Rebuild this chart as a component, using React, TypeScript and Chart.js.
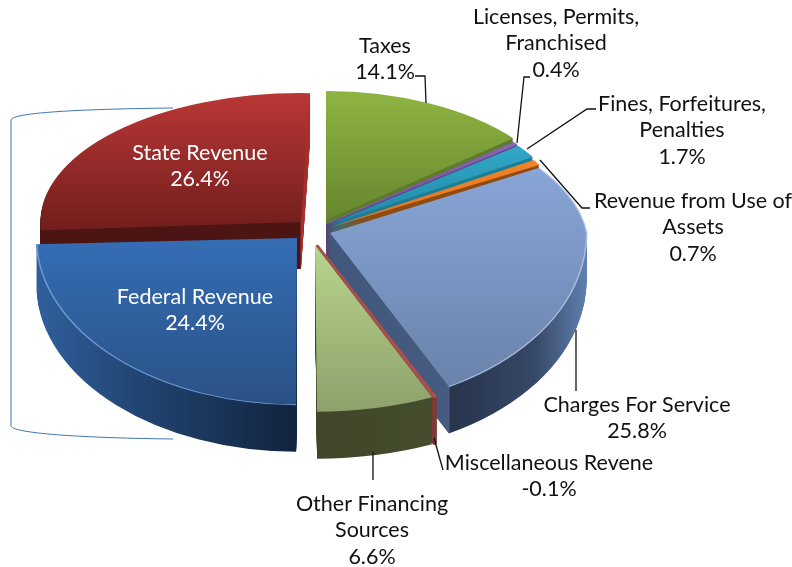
import React, { useEffect, useRef } from "react";
import { Chart, registerables } from "chart.js";

Chart.register(...registerables);

const categories = ["Taxes", "Licenses, Permits, Franchised", "Fines, Forfeitures, Penalties", "Revenue from Use of Assets", "Charges For Service", "Miscellaneous Revene", "Other Financing Sources", "Federal Revenue", "State Revenue"];
const values = [14.1, 0.4, 1.7, 0.7, 25.8, -0.1, 6.6, 24.4, 26.4];
const baseColors = ["#8cb040", "#7f5fa8", "#2fa0bf", "#ef8124", "#87a3d2", "#a9504d", "#b8d28c", "#356cb2", "#b53634"];

// styling & layout of the fake 3D projection
const W = 792, H = 567;
const SY_UP = 0.495, DEPTH = 47;
const drawOrder = [8, 0, 1, 2, 3, 4, 5, 6, 7];
const apexX = [326, 326, 327, 328, 330, 317, 315, 297, 301];
const apexY = [220, 224, 225, 228, 233, 245, 245, 238, 222];
const twist = [0, 0, 0, 0, -1, 2.1, 2.1, 2.7, 2];
const sxScale = [0.93, 0.93, 0.93, 0.93, 0.985, 1.1, 1.1, 1, 1];
const syDown = [0.64, 0.64, 0.64, 0.64, 0.665, 0.64, 0.64, 0.64, 0.64];
const skewUp = [0, 0, 0, 0, 0.2, 0, 0, 0, 0];
const outline = [0, 1, 0, 0, 0, 2.5, 0, 0, 0];
const topGrad = [
  [92, 222, "#8fb342", "#66862e"], [140, 225, "#8a68b4", "#6f4f98"], [150, 225, "#31a6c6", "#2088a6"],
  [155, 228, "#f2842a", "#e2761c"], [170, 385, "#88a5d6", "#6a83ab"], [245, 395, "#a9504d", "#94423f"],
  [245, 410, "#b8d48e", "#8ea26b"], [238, 405, "#356db4", "#2a5185"], [95, 225, "#b83736", "#741f1d"],
];
const sideStops: [number, string][][] = [
  [[0, "#5d7b2b"], [1, "#5d7b2b"]], [[0, "#5a3d82"], [1, "#5a3d82"]], [[0, "#1c7d96"], [1, "#1c7d96"]],
  [[0, "#8f4b12"], [1, "#8f4b12"]],
  [[0, "#42577c"], [0.465, "#465b80"], [0.47, "#27344c"], [0.8, "#364867"], [1, "#5f7fae"]],
  [[0, "#7e3b38"], [1, "#7e3b38"]], [[0, "#3f4629"], [1, "#454d2e"]],
  [[0, "#2f5f9c"], [0.4, "#214471"], [1, "#11233d"]], [[0, "#4c1513"], [0.955, "#4c1513"], [0.96, "#a52f2d"], [1, "#a52f2d"]],
];
const sideRange = [[320, 520], [320, 520], [320, 540], [320, 545], [330, 586], [316, 440], [315, 435], [38, 298], [40, 312]];
const rimColors = [null, null, null, null, "#a9bcdc", null, null, "#6d9ad6", null];

const labelLines = [
  ["Taxes", "14.1%"], ["Licenses, Permits,", "Franchised", "0.4%"], ["Fines, Forfeitures,", "Penalties", "1.7%"],
  ["Revenue from Use of", "Assets", "0.7%"], ["Charges For Service", "25.8%"], ["Miscellaneous Revene", "-0.1%"],
  ["Other Financing", "Sources", "6.6%"], ["Federal Revenue", "24.4%"], ["State Revenue", "26.4%"],
];
const labelX = [385, 556, 682, 693, 637, 549, 372, 195, 200];
const labelY = [46, 17, 104, 201, 405, 463, 504, 297, 153];
const labelColor = ["#111", "#111", "#111", "#111", "#111", "#111", "#111", "#fff", "#fff"];
const leaders = [
  [[415, 76], [425, 76], [426, 103]], [[530, 77], [524, 77], [517, 143]], [[596, 109], [587, 109], [527, 149]],
  [[590, 208], [582, 208], [540, 160]], [[576, 330], [576, 391]], [[443, 470], [434, 438]], [[373, 452], [373, 480]],
];

const pie3d = {
  id: "pie3d",
  beforeDatasetsDraw(chart: any) {
    const ctx = chart.ctx as CanvasRenderingContext2D;
    const arcs = chart.getDatasetMeta(0).data;

    // bracket behind the pie
    ctx.save();
    ctx.strokeStyle = "#3f74b8";
    ctx.lineWidth = 1;
    ctx.beginPath();
    ctx.moveTo(173, 108);
    ctx.bezierCurveTo(90, 109, 12, 112, 11, 120);
    ctx.lineTo(11, 426);
    ctx.bezierCurveTo(14, 434, 90, 438, 173, 439);
    ctx.stroke();
    ctx.restore();

    const paint = (i: number, d: number, fillFor: (ly: (y: number) => number, lx: (x: number) => number) => any) => {
      const arc = arcs[i];
      const ax = apexX[i], ay = apexY[i] + d;
      const orig = arc.options;
      [SY_UP, syDown[i]].forEach((sy, part) => {
        ctx.save();
        ctx.beginPath();
        if (part === 0) ctx.rect(0, 0, W, ay);
        else ctx.rect(0, ay, W, H - ay);
        ctx.clip();
        ctx.translate(ax, ay);
        if (part === 0 && skewUp[i]) ctx.transform(1, 0, skewUp[i], 1, 0, 0);
        ctx.scale(sxScale[i], sy);
        ctx.rotate((twist[i] * Math.PI) / 180);
        ctx.translate(-arc.x, -arc.y);
        const tw = (-twist[i] * Math.PI) / 180;
        // gradient vector in local, un-rotated coordinates
        const loc = (x: number, y: number) => {
          const u = (x - ax) / sxScale[i], v = (y - ay + d) / sy;
          return [arc.x + u * Math.cos(tw) - v * Math.sin(tw), arc.y + u * Math.sin(tw) + v * Math.cos(tw)];
        };
        arc.options = Object.assign(Object.create(orig), {
          backgroundColor: fillFor(
            (y) => loc(ax, y) as any,
            (x) => loc(x, apexY[i]) as any,
          ),
          borderWidth: outline[i],
          borderColor: d === 0 ? baseColors[i] : sideStops[i][0][1],
        });
        arc.draw(ctx);
        arc.options = orig;
        const rim = rimColors[i];
        if (rim && d === 0) {
          ctx.strokeStyle = rim;
          ctx.lineWidth = 1.6;
          ctx.beginPath();
          ctx.arc(arc.x, arc.y, arc.outerRadius, arc.startAngle, arc.endAngle);
          ctx.stroke();
        }
        ctx.restore();
      });
    };

    drawOrder.forEach((i) => {
      for (let d = DEPTH; d >= 1; d--) {
        paint(i, d, (_ly, lx) => {
          const a: any = lx(sideRange[i][0]), b: any = lx(sideRange[i][1]);
          const g = ctx.createLinearGradient(a[0], a[1], b[0], b[1]);
          sideStops[i].forEach(([o, c]) => g.addColorStop(o, c));
          return g;
        });
      }
      paint(i, 0, (ly) => {
        const [y0, y1, c0, c1] = topGrad[i] as [number, number, string, string];
        const a: any = ly(y0), b: any = ly(y1);
        const g = ctx.createLinearGradient(a[0], a[1], b[0], b[1]);
        g.addColorStop(0, c0);
        g.addColorStop(1, c1);
        return g;
      });
    });
    return false;
  },
  afterDraw(chart: any) {
    const ctx = chart.ctx as CanvasRenderingContext2D;
    ctx.save();
    ctx.strokeStyle = "#111";
    ctx.lineWidth = 1.3;
    leaders.forEach((pts) => {
      ctx.beginPath();
      pts.forEach(([x, y], k) => (k ? ctx.lineTo(x, y) : ctx.moveTo(x, y)));
      ctx.stroke();
    });
    ctx.font = "21.5px Lato";
    ctx.textAlign = "center";
    ctx.textBaseline = "middle";
    labelLines.forEach((lines, i) => {
      ctx.fillStyle = labelColor[i];
      lines.forEach((t, k) => ctx.fillText(t, labelX[i], labelY[i] + k * 26.5));
    });
    ctx.restore();
  },
};

export default function App() {
  const ref = useRef<HTMLCanvasElement>(null);
  useEffect(() => {
    const chart = new Chart(ref.current as HTMLCanvasElement, {
      type: "pie",
      data: {
        labels: categories,
        datasets: [{ data: values, backgroundColor: baseColors, borderWidth: 0, hoverOffset: 0 }],
      },
      options: {
        responsive: false,
        animation: false,
        rotation: 0,
        layout: { padding: 23 },
        plugins: { legend: { display: false }, tooltip: { enabled: false } },
      },
      plugins: [pie3d],
    } as any);
    return () => chart.destroy();
  }, []);
  return (
    <div style={{ position: "absolute", left: 0, top: 0, width: W, height: H, background: "#fff" }}>
      <canvas ref={ref} width={W} height={H} style={{ display: "block" }} />
    </div>
  );
}
